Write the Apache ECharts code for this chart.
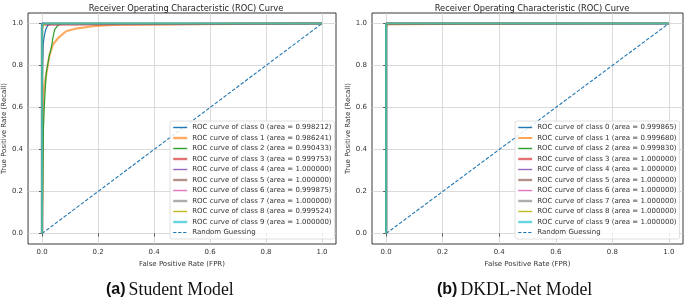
<!DOCTYPE html>
<html><head><meta charset="utf-8">
<script src="https://cdn.jsdelivr.net/npm/echarts@6/dist/echarts.min.js"></script>
<style>html,body{margin:0;padding:0;background:#fff}#c{width:685px;height:297px}</style>
</head><body><div id="c"></div>
<script>
// ---- data ----
const tickValues = [0, 0.2, 0.4, 0.6, 0.8, 1.0];
const chartTitle = 'Receiver Operating Characteristic (ROC) Curve';
const xName = 'False Positive Rate (FPR)';
const yName = 'True Positive Rate (Recall)';
const captions = [['(a)', 'Student Model'], ['(b)', 'DKDL-Net Model']];
const classColors = ['#1f77b4','#ff7f0e','#2ca02c','#d62728','#9467bd','#8c564b','#e377c2','#7f7f7f','#bcbd22','#17becf'];

// Student model
const aucA = ['0.998212','0.986241','0.990433','0.999753','1.000000','1.000000','0.999875','1.000000','0.999524','1.000000'];
const a0x = [0, 0, 0.002, 0.004, 0.008, 0.013, 0.02, 0.03, 1];
const a0y = [0, 0.6, 0.8, 0.9, 0.94, 0.97, 0.99, 1, 1];
const a1x = [0, 0.002, 0.004, 0.008, 0.015, 0.027, 0.039, 0.057, 0.086, 0.122, 0.181, 0.264, 0.27, 1];
const a1y = [0, 0.3, 0.62, 0.7, 0.757, 0.852, 0.90, 0.93, 0.963, 0.976, 0.987, 0.995, 1, 1];
const a2x = [0, 0.003, 0.005, 0.008, 0.012, 0.015, 0.025, 0.033, 0.04, 0.045, 0.057, 0.069, 1];
const a2y = [0, 0.27, 0.5, 0.6, 0.7, 0.765, 0.84, 0.884, 0.94, 0.971, 0.992, 1, 1];
const a3x = [0, 0, 0.003, 0.008, 1];
const a3y = [0, 0.98, 0.995, 1, 1];
const a4x = [0, 0, 1], a4y = [0, 1, 1];
const a5x = [0, 0, 1], a5y = [0, 1, 1];
const a6x = [0, 0, 0.004, 1], a6y = [0, 0.99, 1, 1];
const a7x = [0, 0, 1], a7y = [0, 1, 1];
const a8x = [0, 0, 0.005, 0.015, 1], a8y = [0, 0.97, 0.99, 1, 1];
const a9x = [0, 0, 1], a9y = [0, 1, 1];

// DKDL-Net model
const aucB = ['0.999865','0.999680','0.999830','1.000000','1.000000','1.000000','1.000000','1.000000','1.000000','1.000000'];
const b0x = [0, 0, 0.002, 1], b0y = [0, 0.99, 1, 1];
const b1x = [0, 0, 0.002, 0.005, 0.01, 1], b1y = [0, 0.97, 0.985, 0.995, 1, 1];
const b2x = [0, 0, 0.003, 1], b2y = [0, 0.99, 1, 1];
const b3x = [0, 0, 1], b3y = [0, 1, 1];
const b4x = [0, 0, 1], b4y = [0, 1, 1];
const b5x = [0, 0, 1], b5y = [0, 1, 1];
const b6x = [0, 0, 1], b6y = [0, 1, 1];
const b7x = [0, 0, 1], b7y = [0, 1, 1];
const b8x = [0, 0, 1], b8y = [0, 1, 1];
const b9x = [0, 0, 1], b9y = [0, 1, 1];

const randX = [0, 1], randY = [0, 1];

const curvesA = [[a0x,a0y],[a1x,a1y],[a2x,a2y],[a3x,a3y],[a4x,a4y],[a5x,a5y],[a6x,a6y],[a7x,a7y],[a8x,a8y],[a9x,a9y]];
const curvesB = [[b0x,b0y],[b1x,b1y],[b2x,b2y],[b3x,b3y],[b4x,b4y],[b5x,b5y],[b6x,b6y],[b7x,b7y],[b8x,b8y],[b9x,b9y]];
const thickA = [false,true,false,true,false,true,false,true,false,true];
const thickB = [false,false,false,true,false,true,false,true,false,true];

// ---- build ----
const FONT = 'DejaVu Sans';
const zip = (xs, ys) => xs.map((x, i) => [x, ys[i]]);
const grids = [
  {left: 27, top: 13, width: 309, height: 231},
  {left: 372, top: 13, width: 311, height: 231}
];
const xAxes = [], yAxes = [], series = [], legends = [], titles = [];
[0, 1].forEach(g => {
  const axisCommon = {
    min: -0.05, max: 1.05,
    axisLine: {show: false},
    axisTick: {show: true, inside: false, length: 3, customValues: tickValues, lineStyle: {color: '#333', width: 0.8}},
    axisLabel: {customValues: tickValues, fontFamily: FONT, fontSize: 7, color: '#333', margin: 5,
      formatter: v => v.toFixed(1)},
    splitLine: {show: true, lineStyle: {color: '#d0d0d0', width: 0.8}},
    nameTextStyle: {fontFamily: FONT, fontSize: 7, color: '#333'},
    nameLocation: 'middle'
  };
  xAxes.push(Object.assign({type: 'value', gridIndex: g, name: xName, nameGap: 14}, axisCommon));
  yAxes.push(Object.assign({type: 'value', gridIndex: g, name: yName, nameGap: 16}, axisCommon));
  const curves = g === 0 ? curvesA : curvesB;
  const aucs = g === 0 ? aucA : aucB;
  const thick = g === 0 ? thickA : thickB;
  const legendData = [];
  curves.forEach((c, i) => {
    const name = 'ROC curve of class ' + i + ' (area = ' + aucs[i] + ')';
    const w = thick[i] ? 2.2 : 1.2;
    legendData.push({name, lineStyle: {color: classColors[i], width: thick[i] ? 2.4 : 1.4,
      opacity: thick[i] ? 0.65 : 1, type: 'solid'}});
    series.push({
      type: 'line', name, xAxisIndex: g, yAxisIndex: g, data: zip(c[0], c[1]),
      showSymbol: false, symbol: 'none', silent: true, animation: false, z: 3 + i * 0.01,
      lineStyle: {color: classColors[i], width: w, opacity: thick[i] ? 0.65 : 1},
      itemStyle: {color: classColors[i]}
    });
  });
  series.push({
    type: 'line', name: 'Random Guessing', xAxisIndex: g, yAxisIndex: g, data: zip(randX, randY),
    showSymbol: false, symbol: 'none', silent: true, animation: false, z: 3,
    lineStyle: {color: '#1f77b4', width: 1.1, type: [3.6, 1.8]}, itemStyle: {color: '#1f77b4'}
  });
  legendData.push({name: 'Random Guessing', lineStyle: {color: '#1f77b4', width: 1.2, type: [3.2, 1.8]}});
  legends.push({
    orient: 'vertical', data: legendData,
    left: g === 0 ? 170 : 515, top: 121,
    itemWidth: 14, itemHeight: 7, itemGap: 3.5, padding: [3, 3, 3, 2],
    backgroundColor: 'rgba(255,255,255,0.85)', borderColor: '#d8d8d8', borderWidth: 0.8, borderRadius: 2,
    textStyle: {fontFamily: FONT, fontSize: 7, color: '#333'},
    itemStyle: {opacity: 0},
    selectedMode: false, z: 10
  });
  titles.push({
    text: chartTitle, left: g === 0 ? 181 : 527, top: 0, textAlign: 'center',
    textStyle: {fontFamily: FONT, fontSize: 8.3, fontWeight: 'normal', color: '#222'}
  });
  titles.push({
    text: '{b|' + captions[g][0] + '}{sp| }{s|' + captions[g][1] + '}',
    left: g === 0 ? 101 : 432, top: 276,
    textStyle: {fontWeight: 'normal', rich: {
      b: {fontFamily: 'Liberation Sans', fontWeight: 'bold', fontSize: 16, color: '#111'},
      sp: {fontFamily: 'Liberation Serif', fontWeight: 'normal', fontSize: 12, color: '#111'},
      s: {fontFamily: 'Liberation Serif', fontWeight: 'normal', fontSize: 17.8, color: '#111'}
    }}
  });
});
grids.forEach(gr => { gr.show = true; gr.borderColor = '#222'; gr.borderWidth = 0.9; gr.backgroundColor = 'transparent'; });

const chart = echarts.init(document.getElementById('c'), null, {renderer: 'canvas'});
chart.setOption({
  animation: false,
  backgroundColor: '#fff',
  title: titles, grid: grids, xAxis: xAxes, yAxis: yAxes, legend: legends, series
});
</script></body></html>
